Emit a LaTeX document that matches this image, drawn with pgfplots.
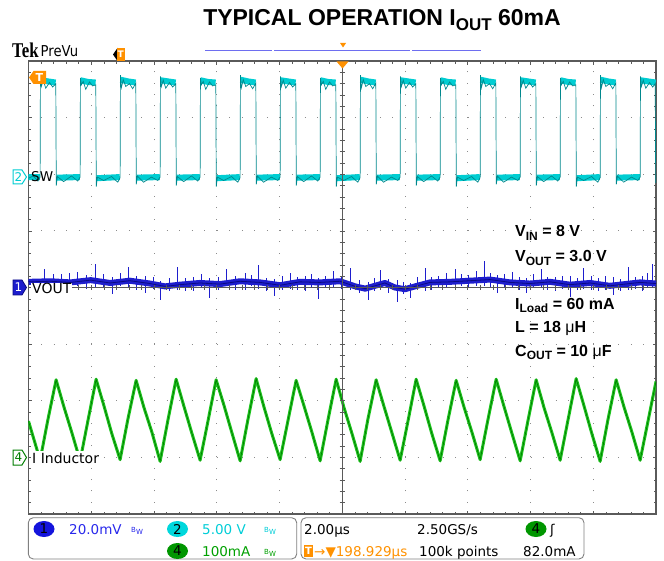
\documentclass[border=0pt]{standalone}
\usepackage{fontspec}
\setmainfont{Liberation Sans}
\newfontfamily\tekfont{DejaVu Sans}
\newfontfamily\tekc[FakeStretch=0.88]{DejaVu Sans}
\newfontfamily\logofont[FakeStretch=0.8]{Liberation Serif}
\usepackage{pgfplots}
\usepackage{pgfplotstable}
\pgfplotsset{compat=1.18}

\definecolor{swc}{RGB}{0,205,210}
\definecolor{swd}{RGB}{0,135,140}
\definecolor{vbc}{RGB}{30,30,205}
\definecolor{vbd}{RGB}{10,10,130}
\definecolor{igc}{RGB}{30,195,30}
\definecolor{igd}{RGB}{0,125,0}
\definecolor{tekor}{RGB}{255,145,0}
\definecolor{frame}{RGB}{90,90,90}
\definecolor{gridc}{RGB}{140,140,140}
\definecolor{recb}{RGB}{110,110,240}
\definecolor{rdblue}{RGB}{40,40,235}
\definecolor{rdcyan}{RGB}{0,205,215}
\definecolor{rdgreen}{RGB}{0,160,0}
\definecolor{badgeblue}{RGB}{20,20,220}
\definecolor{badgecyan}{RGB}{0,215,220}
\definecolor{badgegreen}{RGB}{0,150,0}

\newcommand{\sub}[2]{\raisebox{-0.42ex}{\fontsize{#1}{#1}\selectfont #2}}
\newcommand{\bw}[1]{\textcolor{#1}{\fontsize{7}{7}\selectfont B\raisebox{-2pt}{W}}}

% time in us (2 us/div), vertical in divisions
\pgfplotstableread{
t v
-10 1.93
-9.85 1.97
-9.70 1.88
-9.63 1.95
-9.62 3.73
-9.59 3.55
-9.53 3.66
-9.45 3.52
-9.33 3.62
-9.23 3.54
-9.13 3.60
-9.115 1.80
-9.08 1.96
-8.88 1.87
-8.63 1.97
-8.43 1.88
-8.355 1.95
-8.345 3.70
-8.315 3.58
-8.255 3.64
-8.175 3.50
-8.055 3.63
-7.955 3.56
-7.855 3.58
-7.84 1.78
-7.805 1.95
-7.605 1.89
-7.355 1.96
-7.155 1.86
-7.08 1.94
-7.07 3.75
-7.04 3.53
-6.98 3.67
-6.90 3.55
-6.78 3.60
-6.68 3.51
-6.58 3.61
-6.565 1.82
-6.53 1.97
-6.33 1.86
-6.08 1.95
-5.88 1.89
-5.805 1.95
-5.795 3.73
-5.765 3.55
-5.705 3.66
-5.625 3.52
-5.505 3.62
-5.405 3.54
-5.305 3.60
-5.29 1.80
-5.255 1.96
-5.055 1.87
-4.805 1.97
-4.605 1.88
-4.53 1.95
-4.52 3.70
-4.49 3.58
-4.43 3.64
-4.35 3.50
-4.23 3.63
-4.13 3.56
-4.03 3.58
-4.015 1.78
-3.98 1.95
-3.78 1.89
-3.53 1.96
-3.33 1.86
-3.255 1.94
-3.245 3.75
-3.215 3.53
-3.155 3.67
-3.075 3.55
-2.955 3.60
-2.855 3.51
-2.755 3.61
-2.74 1.82
-2.705 1.97
-2.505 1.86
-2.255 1.95
-2.055 1.89
-1.98 1.95
-1.97 3.73
-1.94 3.55
-1.88 3.66
-1.80 3.52
-1.68 3.62
-1.58 3.54
-1.48 3.60
-1.465 1.80
-1.43 1.96
-1.23 1.87
-0.98 1.97
-0.78 1.88
-0.705 1.95
-0.695 3.70
-0.665 3.58
-0.605 3.64
-0.525 3.50
-0.405 3.63
-0.305 3.56
-0.205 3.58
-0.19 1.78
-0.155 1.95
0.045 1.89
0.295 1.96
0.495 1.86
0.57 1.94
0.58 3.75
0.61 3.53
0.67 3.67
0.75 3.55
0.87 3.60
0.97 3.51
1.07 3.61
1.085 1.82
1.12 1.97
1.32 1.86
1.57 1.95
1.77 1.89
1.845 1.95
1.855 3.73
1.885 3.55
1.945 3.66
2.025 3.52
2.145 3.62
2.245 3.54
2.345 3.60
2.36 1.80
2.395 1.96
2.595 1.87
2.845 1.97
3.045 1.88
3.12 1.95
3.13 3.70
3.16 3.58
3.22 3.64
3.30 3.50
3.42 3.63
3.52 3.56
3.62 3.58
3.635 1.78
3.67 1.95
3.87 1.89
4.12 1.96
4.32 1.86
4.395 1.94
4.405 3.75
4.435 3.53
4.495 3.67
4.575 3.55
4.695 3.60
4.795 3.51
4.895 3.61
4.91 1.82
4.945 1.97
5.145 1.86
5.395 1.95
5.595 1.89
5.67 1.95
5.68 3.73
5.71 3.55
5.77 3.66
5.85 3.52
5.97 3.62
6.07 3.54
6.17 3.60
6.185 1.80
6.22 1.96
6.42 1.87
6.67 1.97
6.87 1.88
6.945 1.95
6.955 3.70
6.985 3.58
7.045 3.64
7.125 3.50
7.245 3.63
7.345 3.56
7.445 3.58
7.46 1.78
7.495 1.95
7.695 1.89
7.945 1.96
8.145 1.86
8.22 1.94
8.23 3.75
8.26 3.53
8.32 3.67
8.40 3.55
8.52 3.60
8.62 3.51
8.72 3.61
8.735 1.82
8.77 1.97
8.97 1.86
9.22 1.95
9.42 1.89
9.495 1.95
9.505 3.73
9.535 3.55
9.595 3.66
9.675 3.52
9.795 3.62
9.895 3.54
9.975 3.60
9.99 1.85
10 1.90
}\swtrace

\pgfplotstableread{
t v
-10 1.95
-9.64 1.95
nan nan
-9.615 3.66
-9.38 3.64
-9.135 3.62
nan nan
-9.10 1.94
-8.365 1.95
nan nan
-8.34 3.66
-8.105 3.63
-7.86 3.62
nan nan
-7.825 1.93
-7.09 1.95
nan nan
-7.065 3.67
-6.83 3.64
-6.585 3.62
nan nan
-6.55 1.94
-5.815 1.95
nan nan
-5.79 3.66
-5.555 3.64
-5.31 3.62
nan nan
-5.275 1.94
-4.54 1.95
nan nan
-4.515 3.66
-4.28 3.63
-4.035 3.62
nan nan
-4.00 1.93
-3.265 1.95
nan nan
-3.24 3.67
-3.005 3.64
-2.76 3.62
nan nan
-2.725 1.94
-1.99 1.95
nan nan
-1.965 3.66
-1.73 3.64
-1.485 3.62
nan nan
-1.45 1.94
-0.715 1.95
nan nan
-0.69 3.66
-0.455 3.63
-0.21 3.62
nan nan
-0.175 1.93
0.56 1.95
nan nan
0.585 3.67
0.82 3.64
1.065 3.62
nan nan
1.10 1.94
1.835 1.95
nan nan
1.86 3.66
2.095 3.64
2.34 3.62
nan nan
2.375 1.94
3.11 1.95
nan nan
3.135 3.66
3.37 3.63
3.615 3.62
nan nan
3.65 1.93
4.385 1.95
nan nan
4.41 3.67
4.645 3.64
4.89 3.62
nan nan
4.925 1.94
5.66 1.95
nan nan
5.685 3.66
5.92 3.64
6.165 3.62
nan nan
6.20 1.94
6.935 1.95
nan nan
6.96 3.66
7.195 3.63
7.44 3.62
nan nan
7.475 1.93
8.21 1.95
nan nan
8.235 3.67
8.47 3.64
8.715 3.62
nan nan
8.75 1.94
9.485 1.95
nan nan
9.51 3.66
9.745 3.64
9.99 3.62
}\swband

\pgfplotstableread{
t v
-10 0.10
-9.30 0.11
-8.66 0.09
-8.02 0.13
-7.40 0.08
-6.77 0.12
-6.13 0.07
-5.65 0.02
-5.17 0.05
-4.54 0.08
-3.90 0.06
-3.26 0.11
-2.62 0.09
-1.98 0.04
-1.35 0.10
-0.71 0.09
-0.07 0.11
0.41 0.02
0.73 -0.02
1.04 0.03
1.36 0.08
1.68 0.00
2.00 -0.03
2.32 0.02
2.80 0.09
3.44 0.10
4.07 0.12
4.71 0.14
5.35 0.09
5.98 0.07
6.62 0.10
7.26 0.05
7.90 0.08
8.53 0.03
9.01 0.06
9.49 0.09
10 0.07
}\voutband

\pgfplotstableread{
t v p m
-9.48 0.10 0.22 0.10
-9.21 0.11 0.12 0.14
-8.94 0.11 0.12 0.18
-8.69 0.10 0.15 0.09
-8.43 0.10 0.18 0.08
-8.15 0.12 0.10 0.14
-7.88 0.12 0.30 0.12
-7.61 0.10 0.14 0.10
-7.34 0.09 0.10 0.20
-7.08 0.10 0.16 0.08
-6.83 0.11 0.25 0.10
-6.55 0.10 0.10 0.15
-6.26 0.07 0.14 0.16
-6.03 0.06 0.12 0.09
-5.81 0.04 0.08 0.26
-5.52 0.03 0.14 0.10
-5.24 0.06 0.30 0.10
-5.00 0.06 0.10 0.13
-4.76 0.07 0.12 0.14
-4.49 0.08 0.16 0.09
-4.22 0.06 0.10 0.24
-3.96 0.06 0.13 0.10
-3.71 0.10 0.22 0.08
-3.40 0.10 0.10 0.15
-3.10 0.10 0.16 0.14
-2.90 0.10 0.12 0.08
-2.69 0.08 0.32 0.10
-2.42 0.07 0.10 0.14
-2.15 0.05 0.10 0.20
-1.91 0.05 0.15 0.09
-1.67 0.07 0.18 0.10
-1.43 0.09 0.10 0.13
-1.19 0.09 0.12 0.16
-0.98 0.09 0.14 0.08
-0.77 0.09 0.08 0.30
-0.53 0.09 0.12 0.10
-0.29 0.10 0.20 0.10
-0.02 0.11 0.10 0.14
0.25 0.08 0.26 0.12
0.53 0.01 0.12 0.10
0.82 0.00 0.10 0.22
1.01 0.02 0.14 0.08
1.20 0.03 0.28 0.08
1.47 0.05 0.10 0.14
1.75 0.00 0.14 0.26
1.95 -0.02 0.12 0.10
2.16 0.00 0.08 0.18
2.40 0.03 0.15 0.08
2.64 0.05 0.30 0.12
2.85 0.08 0.10 0.13
3.05 0.09 0.12 0.10
3.32 0.10 0.16 0.09
3.59 0.11 0.22 0.16
3.80 0.11 0.12 0.08
4.01 0.12 0.10 0.12
4.27 0.12 0.18 0.10
4.52 0.13 0.34 0.10
4.73 0.14 0.12 0.14
4.93 0.10 0.12 0.20
5.17 0.09 0.14 0.08
5.41 0.09 0.18 0.08
5.63 0.08 0.10 0.12
5.86 0.07 0.10 0.16
6.10 0.08 0.15 0.08
6.33 0.09 0.24 0.10
6.55 0.09 0.10 0.13
6.78 0.07 0.12 0.14
7.02 0.06 0.14 0.09
7.26 0.05 0.16 0.22
7.48 0.06 0.10 0.10
7.70 0.07 0.28 0.10
7.93 0.08 0.12 0.13
8.15 0.06 0.10 0.12
8.39 0.05 0.15 0.09
8.63 0.04 0.14 0.18
8.87 0.05 0.10 0.12
9.11 0.06 0.30 0.10
9.33 0.07 0.12 0.09
9.56 0.08 0.12 0.14
9.72 0.09 0.16 0.10
9.88 0.07 0.34 0.08
}\voutspk

\pgfplotstableread{
t v
-10 -2.36
-9.63 -3.05
-9.38 -2.33
-9.12 -1.63
-8.87 -2.11
-8.62 -2.56
-8.355 -3.06
-8.105 -2.35
-7.845 -1.62
-7.595 -2.09
-7.345 -2.58
-7.08 -3.04
-6.83 -2.32
-6.57 -1.64
-6.32 -2.12
-6.07 -2.55
-5.805 -3.07
-5.555 -2.34
-5.295 -1.62
-5.045 -2.10
-4.795 -2.57
-4.53 -3.05
-4.28 -2.36
-4.02 -1.63
-3.77 -2.08
-3.52 -2.56
-3.255 -3.06
-3.005 -2.33
-2.745 -1.61
-2.495 -2.11
-2.245 -2.58
-1.98 -3.04
-1.73 -2.35
-1.47 -1.64
-1.22 -2.09
-0.97 -2.55
-0.705 -3.06
-0.455 -2.34
-0.195 -1.62
0.055 -2.12
0.305 -2.57
0.57 -3.07
0.82 -2.32
1.08 -1.63
1.33 -2.10
1.58 -2.56
1.845 -3.05
2.095 -2.36
2.355 -1.62
2.605 -2.09
2.855 -2.58
3.12 -3.06
3.37 -2.34
3.63 -1.64
3.88 -2.11
4.13 -2.55
4.395 -3.04
4.645 -2.33
4.905 -1.62
5.155 -2.10
5.405 -2.57
5.67 -3.06
5.92 -2.35
6.18 -1.63
6.43 -2.12
6.68 -2.56
6.945 -3.05
7.195 -2.34
7.455 -1.61
7.705 -2.09
7.955 -2.58
8.22 -3.07
8.47 -2.33
8.73 -1.63
8.98 -2.11
9.23 -2.55
9.495 -3.05
9.745 -2.36
10 -1.66
}\inductor

\begin{document}
\begin{tikzpicture}
\useasboundingbox (0,0) rectangle (664pt,-561pt);
\begin{axis}[
  at={(28.5pt,-514pt)}, anchor=south west,
  scale only axis, width=627.5pt, height=453pt,
  xmin=-10, xmax=10, ymin=-4, ymax=4,
  xtick={-10,-8,...,10}, ytick={-4,-3,...,4},
  xticklabels={}, yticklabels={},
  minor x tick num=4, minor y tick num=4,
  xtick pos=both, ytick pos=both, tick align=inside,
  major tick length=3.5pt, minor tick length=2.5pt,
  tick style={frame, line width=0.6pt},
  grid=major,
  major grid style={gridc, line width=0.9pt},
  every axis x grid/.append style={dash pattern=on 0.9pt off 10.425pt},
  every axis y grid/.append style={dash pattern=on 0.9pt off 11.65pt},
  axis line style={frame, line width=1.2pt},
  unbounded coords=jump,
]
% SW (channel 2)
\addplot[swc, line width=6pt, line join=round] table[x=t, y=v] {\swband};
\addplot[swd, line width=0.7pt] table[x=t, y=v] {\swtrace};
% VOUT (channel 1)
\addplot[vbc, line width=6pt, line join=round] table[x=t, y=v] {\voutband};
\addplot[draw=none, mark=none, error bars/.cd, y dir=both, y explicit,
  error mark=none, error bar style={draw=vbc, line width=0.7pt}]
  table[x=t, y=v, y error plus=p, y error minus=m] {\voutspk};
\addplot[vbd, line width=0.8pt] table[x=t, y=v] {\voutband};
% Inductor current (channel 4)
\addplot[igc, line width=3pt, line join=round] table[x=t, y=v] {\inductor};
\addplot[igd, line width=0.7pt] table[x=t, y=v] {\inductor};
\end{axis}

\begin{scope}[x=1pt, y=-1pt]
% centre graticule lines with ticks
\draw[frame, line width=0.9pt] (342.25,61) -- (342.25,514);
\draw[frame, line width=0.9pt] (28.5,287.5) -- (656,287.5);
\foreach \i in {1,...,39} {\draw[frame, line width=0.6pt] (339.5,{61+11.325*\i}) -- (345,{61+11.325*\i});}
\foreach \i in {1,...,49} {\draw[frame, line width=0.6pt] ({28.5+12.55*\i},284.8) -- ({28.5+12.55*\i},290.2);}

% title
\node[anchor=base, inner sep=0, font=\fontsize{23}{23}\selectfont\bfseries] at (382,25.5)
  {TYPICAL OPERATION I\sub{17}{OUT} 60mA};

% Tek PreVu
\node[anchor=base west, inner sep=0, font=\logofont\bfseries\fontsize{21}{21}\selectfont] at (12,57.5) {Tek};
\node[anchor=base west, inner sep=0, font=\tekc\fontsize{15}{15}\selectfont] at (40.5,56.5) {PreVu};

% record view bar
\draw[recb, line width=1.5pt] (205,50.7) -- (272,50.7);
\draw[recb, line width=1.5pt] (274,50.7) -- (410,50.7);
\draw[recb, line width=1.5pt] (412,50.7) -- (481,50.7);
\fill[tekor] (340,43) -- (346,43) -- (343,47.5) -- cycle;

% trigger position markers
\fill[black] (113,54.5) -- (117.5,48) -- (117.5,61) -- cycle;
\fill[tekor] (117,48) rectangle (124.5,61);
\node[white, font=\tekfont\bfseries\fontsize{9}{9}\selectfont, inner sep=0] at (120.8,54.5) {T};
\fill[tekor] (336.5,61.5) -- (348.5,61.5) -- (342.5,68.5) -- cycle;

% trigger level marker
\fill[tekor] (29,77.5) -- (33.5,71) -- (46,71) -- (46,84) -- (33.5,84) -- cycle;
\node[white, font=\tekfont\bfseries\fontsize{11}{11}\selectfont, inner sep=0] at (39.5,77.5) {T};

% channel markers and labels
\filldraw[draw=swc, fill=white, line width=1pt] (13,170) -- (22,170) -- (26.5,177) -- (22,184) -- (13,184) -- cycle;
\node[swc, font=\tekfont\fontsize{12}{12}\selectfont, inner sep=0] at (18.5,177) {2};
\node[anchor=base west, inner sep=0, font=\tekfont\fontsize{13.5}{13.5}\selectfont] at (31,182) {SW};

\filldraw[draw=vbd, fill=vbc, line width=0.8pt] (13,280) -- (22,280) -- (26.5,287.5) -- (22,295) -- (13,295) -- cycle;
\node[white, font=\tekfont\fontsize{12}{12}\selectfont, inner sep=0] at (18.5,287.5) {1};
\node[anchor=base west, fill=white, inner sep=1pt, font=\tekfont\fontsize{14}{14}\selectfont] at (31,294) {VOUT};

\filldraw[draw=igd, fill=white, line width=1pt] (13,450) -- (22,450) -- (26.5,457.5) -- (22,465) -- (13,465) -- cycle;
\node[igd, font=\tekfont\fontsize{12}{12}\selectfont, inner sep=0] at (18.5,457.5) {4};
\node[anchor=base west, fill=white, inner sep=1pt, font=\tekfont\fontsize{14}{14}\selectfont] at (31,463) {I Inductor};

% test conditions
\begin{scope}[every node/.style={anchor=base west, inner sep=0, font=\fontsize{16}{16}\selectfont\bfseries}]
\node at (515,237) {V\sub{12}{IN} = 8 V};
\node at (515,262) {V\sub{12}{OUT} = 3.0 V};
\node at (515,309) {I\sub{12}{Load} = 60 mA};
\node at (515,333) {L = 18 {\mdseries μ}H};
\node at (515,356) {C\sub{12}{OUT} = 10 {\mdseries μ}F};
\end{scope}

% readout boxes
\draw[gray, line width=0.9pt, rounded corners=5pt] (28.3,517.7) rectangle (296.7,559);
\draw[gray, line width=0.9pt, rounded corners=5pt] (301,517.7) rectangle (584,559);
\begin{scope}[every node/.style={anchor=base west, inner sep=0, font=\tekfont\fontsize{13.5}{13.5}\selectfont}]
\fill[badgeblue] (44,529) ellipse (10.5pt and 8pt);
\node[anchor=center] at (44,529) {1};
\node[rdblue] at (69,534.5) {20.0mV};
\node at (131,532) {\bw{rdblue}};
\fill[badgecyan] (177.5,529) ellipse (10.5pt and 8pt);
\node[anchor=center] at (177.5,529) {2};
\node[rdcyan] at (202,534.5) {5.00 V};
\node at (264,532) {\bw{rdcyan}};
\fill[badgegreen] (177.5,551) ellipse (10.5pt and 8pt);
\node[anchor=center] at (177.5,551) {4};
\node[rdgreen] at (202,556.5) {100mA};
\node at (264,554) {\bw{rdgreen}};

\node at (304,534.5) {2.00µs};
\node at (417,534.5) {2.50GS/s};
\fill[badgegreen] (536,529) ellipse (10.5pt and 8pt);
\node[anchor=center] at (536,529) {4};
\node at (550,534.5) {ʃ};
\fill[tekor] (304,545) rectangle (313,557);
\node[white, anchor=center, font=\tekfont\bfseries\fontsize{10}{10}\selectfont] at (308.5,551) {T};
\node[tekor] at (314,556.5) {→▼198.929µs};
\node at (419,556.5) {100k points};
\node at (523,556.5) {82.0mA};
\end{scope}
\end{scope}
\end{tikzpicture}
\end{document}
